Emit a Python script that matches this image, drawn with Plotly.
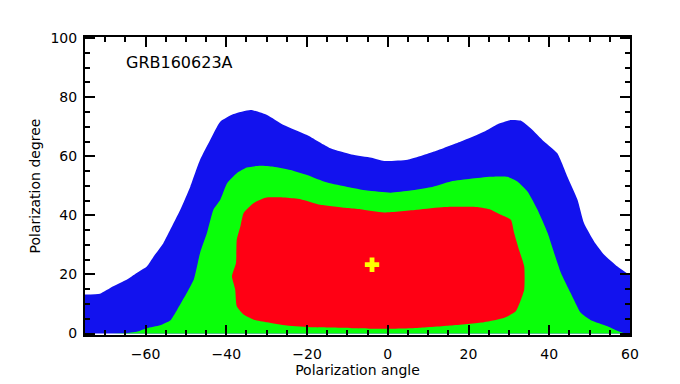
import plotly.graph_objects as go

# contour levels (polarization angle vs degree)
blue_x = [-75, -71.3, -68, -64.7, -62.2, -59.7, -58, -55.6, -53.9, -51.4, -48.9, -46.5, -44, -41.5,
          -38.2, -34, -29.9, -25.8, -20, -14.2, -9, -4, -0.9, 4.9, 11.5, 18.1, 23.8, 27.2, 30.5,
          32.9, 35.4, 38.7, 42, 44.5, 47, 48.6, 51.1, 53.6, 56.9, 60]
blue_y = [13.2, 13.5, 16, 18.2, 20.5, 22.7, 26.1, 30.6, 35.1, 41.9, 49.8, 58.8, 65.5, 71.7,
          74.3, 75.7, 74, 70.6, 67.2, 62.7, 60.6, 59.5, 58.4, 58.8, 61.6, 65, 68.3, 70.9, 72.3,
          72.1, 69.5, 65, 61, 53.1, 45.3, 37.4, 31.2, 26.7, 22.7, 19.7]

green_x = [-68.4, -64, -62.2, -59.7, -56.4, -53.9, -52.2, -49.8, -48, -46.5, -44.8, -43.2, -41.5,
           -39.8, -37.4, -34.9, -31.6, -28.3, -24.1, -20, -15, -10, -5.1, 0.7, 5.6, 10.6, 15.6,
           20.5, 25.5, 29.6, 32.1, 34.6, 37.1, 39.6, 41.2, 42.9, 45.3, 47.8, 50.3, 54.4, 57.8, 59]
green_y = [0, 0.3, 0.6, 1.8, 2.8, 4.4, 8, 13.7, 18.5, 27.3, 34, 41.9, 45.3,
           50.9, 54.3, 56.2, 56.8, 56.5, 55.4, 53.7, 51.1, 49.6, 48.4, 47.7, 48.4, 49.5, 51.5,
           52.4, 53.1, 53.1, 51.5, 48.1, 41.9, 34, 27.3, 20.5, 13.7, 7, 4.5, 2.5, 0.4, 0]

red_x = [-37.4, -36.5, -35.7, -33.2, -30.3, -25, -21.6, -16.7, -10, -6.8, -0.9, 7.4, 14, 22.2,
         25.5, 28, 30.5, 31.3, 32.5, 33.8, 33.8, 33, 31.7, 28.9, 23.8, 15.6, 7.4, -0.9, -9,
         -18.4, -25, -29.9, -33.2, -35.7, -37.4, -37.8, -38.6, -37.6, -37.4]
red_y = [31.8, 36.3, 40.8, 44.2, 46, 46, 45.5, 43.6, 42.5, 42.1, 41.0, 41.9, 42.8, 42.8,
         41.9, 40.2, 38.5, 34, 28.4, 22.7, 14.9, 11.5, 7.5, 5.3, 3.8, 2.7, 1.9, 1.6, 1.8,
         2.1, 2.7, 3.8, 4.7, 6.4, 9.2, 14.9, 19.4, 23.9, 31.8]

best_x = [-3.9]
best_y = [23.3]

fig = go.Figure()
fig.add_trace(go.Scatter(x=blue_x, y=blue_y, mode="lines", fill="tozeroy",
                         line=dict(width=0, color="#1212EE", shape="spline", smoothing=0.5),
                         fillcolor="#1212EE"))
fig.add_trace(go.Scatter(x=green_x, y=green_y, mode="lines", fill="tozeroy",
                         line=dict(width=0, color="#0AFF0A", shape="spline", smoothing=0.5),
                         fillcolor="#0AFF0A"))
fig.add_trace(go.Scatter(x=red_x, y=red_y, mode="lines", fill="toself",
                         line=dict(width=0, color="#FF0014", shape="spline", smoothing=0.5),
                         fillcolor="#FF0014"))
fig.add_trace(go.Scatter(x=best_x, y=best_y, mode="markers",
                         marker=dict(symbol="cross", size=12, color="#FFFF00",
                                     line=dict(width=0))))

axis_common = dict(showline=True, linecolor="black", linewidth=2, mirror="allticks",
                   ticks="inside", ticklen=10, tickwidth=2, tickcolor="black",
                   showgrid=False, zeroline=False, automargin=False,
                   tickfont=dict(family="DejaVu Sans", size=14, color="black"),
                   minor=dict(ticks="inside", ticklen=5, tickwidth=1.5, tickcolor="black", dtick=5))

fig.update_xaxes(range=[-75, 60], tick0=-60, dtick=20, ticklabelstandoff=5,
                 title=dict(text="Polarization angle", standoff=4,
                            font=dict(family="DejaVu Sans", size=14, color="black")),
                 **axis_common)
fig.update_yaxes(range=[-0.5, 100.4], tick0=0, dtick=20, ticklabelstandoff=3,
                 title=dict(text="Polarization degree", standoff=7,
                            font=dict(family="DejaVu Sans", size=14, color="black")),
                 **axis_common)

fig.add_annotation(text="GRB160623A", x=0.072, y=0.915, xref="paper", yref="paper",
                   xanchor="left", yanchor="middle", showarrow=False,
                   font=dict(family="DejaVu Sans", size=16, color="black"))

fig.update_layout(width=680, height=384, showlegend=False,
                  margin=dict(l=77, r=58, t=29, b=57),
                  plot_bgcolor="white", paper_bgcolor="white")

fig.write_html("out.html")
